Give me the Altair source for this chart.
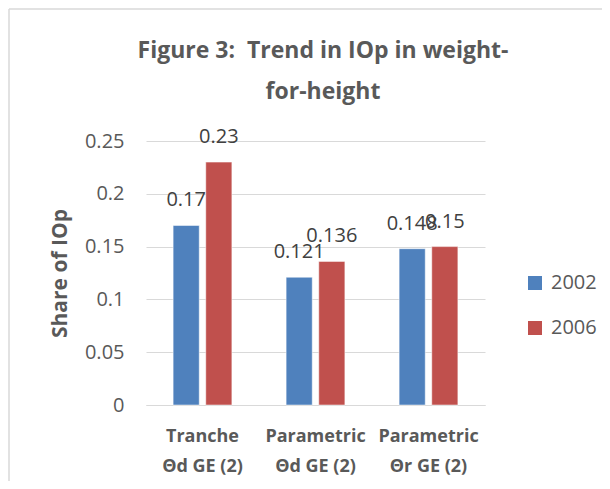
import altair as alt
import pandas as pd

categories = ["Tranche|Θd GE (2)", "Parametric|Θd GE (2)", "Parametric|Θr GE (2)"]
years = ["2002", "2006"]
values_2002 = [0.17, 0.121, 0.148]
values_2006 = [0.23, 0.136, 0.15]
y_ticks = [0, 0.05, 0.1, 0.15, 0.2, 0.25]
colors = ["#4F81BD", "#C0504D"]
title_lines = ["Figure 3:\u00a0 Trend in IOp in weight-", "for-height"]

rows = []
for c, v in zip(categories, values_2002):
    rows.append({"cat": c, "year": "2002", "value": v})
for c, v in zip(categories, values_2006):
    rows.append({"cat": c, "year": "2006", "value": v})
df = pd.DataFrame(rows)

FONT = "Open Sans"
GREY = "#595959"

x_enc = alt.X("cat:N", sort=categories, title=None,
              scale=alt.Scale(paddingInner=0.48, paddingOuter=0.24),
              axis=alt.Axis(labelExpr="split(datum.label, '|')", labelAngle=0,
                            labelFontWeight="bold", labelFontSize=18, labelColor=GREY,
                            labelFont=FONT, labelLineHeight=30, labelPadding=22,
                            ticks=False, domain=True, domainColor="#d9d9d9",
                            labelBaseline="top"))
xoff = alt.XOffset("year:N", sort=years, scale=alt.Scale(paddingInner=0.2, paddingOuter=0))
y_enc = alt.Y("value:Q", scale=alt.Scale(domain=[0, 0.25], nice=False),
              axis=alt.Axis(values=y_ticks, format="~g", title="Share of IOp",
                            titleFontSize=21, titleFontWeight="bold", titleColor=GREY,
                            titleFont=FONT, titlePadding=14,
                            labelFontSize=20, labelColor=GREY, labelFont=FONT,
                            labelPadding=22, ticks=False, domain=False,
                            gridColor="#d9d9d9"))

bars = alt.Chart(df).mark_bar(stroke="white", strokeWidth=0.5).encode(
    x=x_enc, xOffset=xoff, y=y_enc,
    color=alt.Color("year:N", sort=years, scale=alt.Scale(domain=years, range=colors),
                    legend=alt.Legend(title=None, orient="none", legendX=379, legendY=132,
                                      symbolType="square", symbolSize=196,
                                      symbolStrokeWidth=0,
                                      labelFontSize=20, labelColor=GREY, labelFont=FONT,
                                      rowPadding=25, labelOffset=6)),
)

labels = alt.Chart(df).mark_text(fontSize=20, color="#404040", font=FONT,
                                 baseline="alphabetic", dy=-19).encode(
    x=alt.X("cat:N", sort=categories), xOffset=xoff, y="value:Q",
    text=alt.Text("value:Q", format="~g"),
)

one = pd.DataFrame({"a": [0]})
title1 = alt.Chart(one).mark_text(fontSize=23, fontWeight="bold", color=GREY, font=FONT,
                                  baseline="middle", align="center").encode(
    x=alt.value(177), y=alt.value(-90), text=alt.value(title_lines[0]))
title2 = alt.Chart(one).mark_text(fontSize=23, fontWeight="bold", color=GREY, font=FONT,
                                  baseline="middle", align="center").encode(
    x=alt.value(177), y=alt.value(-49), text=alt.value(title_lines[1]))

frame_left = alt.Chart(one).mark_rule(color="#d9d9d9", strokeWidth=1.5).encode(
    x=alt.value(-137), y=alt.value(-132), y2=alt.value(348))
frame_top = alt.Chart(one).mark_rule(color="#d9d9d9", strokeWidth=1.5).encode(
    x=alt.value(-137), x2=alt.value(464), y=alt.value(-132))

chart = alt.layer(frame_left, frame_top, title1, title2, bars, labels).properties(
    width=339, height=264,
    autosize=alt.AutoSizeParams(type="none"),
    padding={"left": 138, "top": 133, "right": 117, "bottom": 76},
).configure(background="white").configure_view(stroke=None)

chart.save("out.html", embed_options={"renderer": "svg", "actions": False})
